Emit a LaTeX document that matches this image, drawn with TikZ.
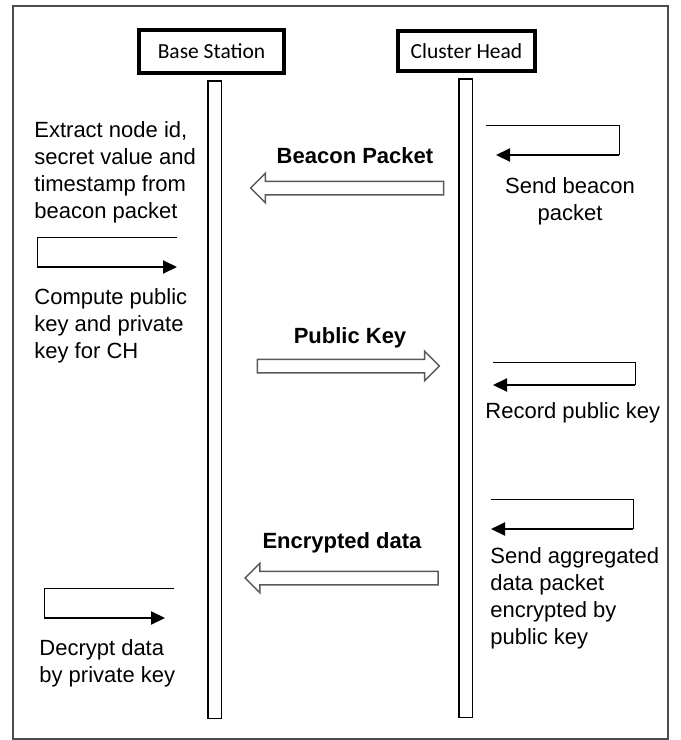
\documentclass[tikz,border=0pt]{standalone}
\usepackage{fontspec}
\setmainfont{Liberation Sans}
\newfontfamily\headfont{Carlito}
\usetikzlibrary{arrows.meta,shapes.arrows}

\begin{document}
\begin{tikzpicture}[x=0.5pt,y=-0.5pt]

      \useasboundingbox (0,0) rectangle (681,740);
      \draw[line width=1pt,black!70] (13,6) rectangle (668,739);

      \begin{scope}[every node/.style={draw,line width=2pt,inner sep=0pt,font=\headfont\fontsize{10.75}{13}\selectfont}]
        \node[minimum width=72.5pt,minimum height=21.5pt] (bs) at (211.5,51.5) {Base Station};
        \node[minimum width=68.5pt,minimum height=20pt]   (ch) at (466.5,51)   {Cluster Head};
      \end{scope}

      \begin{scope}[every node/.style={draw,line width=0.75pt,minimum width=6.75pt,inner sep=0pt}]
        \node[minimum height=318.75pt] (bsline) at (214.5,399.5) {};
        \node[minimum height=319.25pt] (chline) at (465.5,398)   {};
      \end{scope}

      \begin{scope}[every node/.style={single arrow,draw=black!65,line width=0.75pt,fill=white,
          single arrow head extend=4pt,inner xsep=0pt,inner ysep=3pt}]
        \node[minimum height=96.5pt,shape border rotate=180] (beacon)  at (350.5,188) {};
        \node[minimum height=91pt]                           (pubkey)  at (345,366)   {};
        \node[minimum height=96.5pt,shape border rotate=180] (encdata) at (345,578)   {};
      \end{scope}

      \begin{scope}[every node/.style={anchor=north,inner sep=0pt,font=\fontsize{11}{13.5}\selectfont\bfseries}]
        \node (beaconlbl)  at (355,147) {Beacon Packet};
        \node (pubkeylbl)  at (350,327) {Public Key};
        \node (encdatalbl) at (342,532) {Encrypted data};
      \end{scope}

      \begin{scope}[every node/.style={align=left,anchor=north west,inner sep=0pt,font=\fontsize{11}{13.5}\selectfont}]
        \node (extract) at (34,121) {Extract node id,\\secret value and\\timestamp from\\beacon packet};
        \node (compute) at (34,288) {Compute public\\key and private\\key for CH};
        \node (decrypt) at (39,639) {Decrypt data\\by private key};
        \node[align=center,anchor=north] (send) at (570,177) {Send beacon\\packet};
        \node (record)  at (485,402) {Record public key};
        \node (sendagg) at (490,547) {Send aggregated\\data packet\\encrypted by\\public key};
      \end{scope}

      \coordinate (extA)  at (177,237);  \coordinate (extB)  at (37,267);
      \coordinate (sendA) at (486,125);  \coordinate (sendB) at (619,155);
      \coordinate (recA)  at (493,362);  \coordinate (recB)  at (635,385);
      \coordinate (aggA)  at (491,499);  \coordinate (aggB)  at (633,529);
      \coordinate (decA)  at (174,588);  \coordinate (decB)  at (44,618);

      \begin{scope}[every path/.style={line width=0.5pt}]
        \draw (extA)  -| (extB);
        \draw (sendA) -| (sendB);
        \draw (recA)  -| (recB);
        \draw (aggA)  -| (aggB);
        \draw (decA)  -| (decB);
      \end{scope}

      \begin{scope}[every path/.style={line width=1pt,-{Triangle[length=7pt,width=6.5pt]}}]
        \draw (extB) -- (extB -| extA);
        \draw[shorten >=5pt] (sendB) -- (sendB -| sendA);
        \draw (recB) -- (recB -| recA);
        \draw (aggB) -- (aggB -| aggA);
        \draw[shorten >=4.5pt] (decB) -- (decB -| decA);
      \end{scope}

    \end{tikzpicture}
\end{document}
